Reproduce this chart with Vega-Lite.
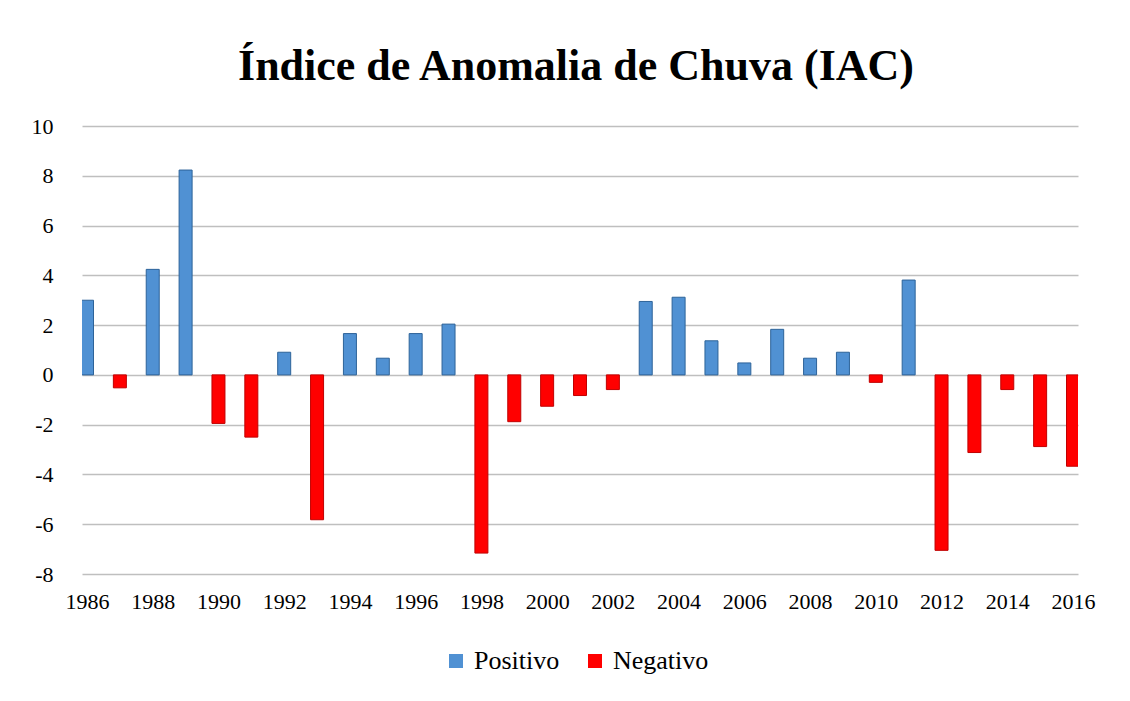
{
  "$schema": "https://vega.github.io/schema/vega-lite/v6.json",
  "width": 996,
  "height": 448,
  "autosize": {"type": "none"},
  "padding": {"left": 82, "top": 126, "right": 52, "bottom": 127},
  "background": "white",
  "title": {
    "text": "Índice de Anomalia  de Chuva (IAC)",
    "font": "Liberation Serif",
    "fontSize": 44,
    "fontWeight": "bold",
    "color": "black",
    "anchor": "middle",
    "offset": 26,
    "dx": -4
  },
  "config": {
    "view": {"stroke": null},
    "font": "Liberation Serif",
    "axis": {"labelFont": "Liberation Serif"},
    "legend": {"labelFont": "Liberation Serif"}
  },
  "data": {
    "values": [
      {"ano": 1986, "iac": 3.0, "tipo": "Positivo"},
      {"ano": 1987, "iac": -0.52, "tipo": "Negativo"},
      {"ano": 1988, "iac": 4.24, "tipo": "Positivo"},
      {"ano": 1989, "iac": 8.23, "tipo": "Positivo"},
      {"ano": 1990, "iac": -1.95, "tipo": "Negativo"},
      {"ano": 1991, "iac": -2.5, "tipo": "Negativo"},
      {"ano": 1992, "iac": 0.91, "tipo": "Positivo"},
      {"ano": 1993, "iac": -5.82, "tipo": "Negativo"},
      {"ano": 1994, "iac": 1.66, "tipo": "Positivo"},
      {"ano": 1995, "iac": 0.67, "tipo": "Positivo"},
      {"ano": 1996, "iac": 1.66, "tipo": "Positivo"},
      {"ano": 1997, "iac": 2.04, "tipo": "Positivo"},
      {"ano": 1998, "iac": -7.16, "tipo": "Negativo"},
      {"ano": 1999, "iac": -1.88, "tipo": "Negativo"},
      {"ano": 2000, "iac": -1.26, "tipo": "Negativo"},
      {"ano": 2001, "iac": -0.83, "tipo": "Negativo"},
      {"ano": 2002, "iac": -0.59, "tipo": "Negativo"},
      {"ano": 2003, "iac": 2.95, "tipo": "Positivo"},
      {"ano": 2004, "iac": 3.12, "tipo": "Positivo"},
      {"ano": 2005, "iac": 1.37, "tipo": "Positivo"},
      {"ano": 2006, "iac": 0.48, "tipo": "Positivo"},
      {"ano": 2007, "iac": 1.83, "tipo": "Positivo"},
      {"ano": 2008, "iac": 0.67, "tipo": "Positivo"},
      {"ano": 2009, "iac": 0.91, "tipo": "Positivo"},
      {"ano": 2010, "iac": -0.3, "tipo": "Negativo"},
      {"ano": 2011, "iac": 3.81, "tipo": "Positivo"},
      {"ano": 2012, "iac": -7.05, "tipo": "Negativo"},
      {"ano": 2013, "iac": -3.12, "tipo": "Negativo"},
      {"ano": 2014, "iac": -0.59, "tipo": "Negativo"},
      {"ano": 2015, "iac": -2.88, "tipo": "Negativo"},
      {"ano": 2016, "iac": -3.67, "tipo": "Negativo"}
    ]
  },
  "mark": {"type": "bar", "size": 13, "clip": true, "strokeWidth": 1},
  "encoding": {
    "x": {
      "field": "ano",
      "type": "quantitative",
      "scale": {"domain": [1986, 2016], "nice": false, "zero": false},
      "axis": {
        "title": null,
        "values": [1986, 1988, 1990, 1992, 1994, 1996, 1998, 2000, 2002, 2004, 2006, 2008, 2010, 2012, 2014, 2016],
        "format": "d",
        "grid": false,
        "domain": false,
        "ticks": false,
        "labelFont": "Liberation Serif",
        "labelFontSize": 22,
        "labelColor": "black",
        "labelPadding": 17,
        "labelFlush": false,
        "labelOverlap": false
      }
    },
    "y": {
      "field": "iac",
      "type": "quantitative",
      "scale": {"domain": [-8, 10], "nice": false},
      "axis": {
        "title": null,
        "values": [-8, -6, -4, -2, 0, 2, 4, 6, 8, 10],
        "labelExpr": "replace(datum.label, '−', '-')",
        "grid": true,
        "gridColor": "#bfbfbf",
        "gridWidth": 1.5,
        "domain": false,
        "ticks": false,
        "labelFont": "Liberation Serif",
        "labelFontSize": 22,
        "labelColor": "black",
        "labelPadding": 29
      }
    },
    "color": {
      "field": "tipo",
      "type": "nominal",
      "scale": {"domain": ["Positivo", "Negativo"], "range": ["#5091d3", "#ff0000"]},
      "legend": {
        "title": null,
        "orient": "none",
        "direction": "horizontal",
        "legendX": 361,
        "legendY": 522,
        "symbolType": "square",
        "symbolSize": 196,
        "symbolStrokeWidth": 0,
        "labelFont": "Liberation Serif",
        "labelFontSize": 26,
        "labelColor": "black",
        "labelOffset": 5,
        "columnPadding": 22
      }
    },
    "stroke": {
      "field": "tipo",
      "type": "nominal",
      "scale": {"domain": ["Positivo", "Negativo"], "range": ["#2d6399", "#c00000"]},
      "legend": null
    }
  }
}
